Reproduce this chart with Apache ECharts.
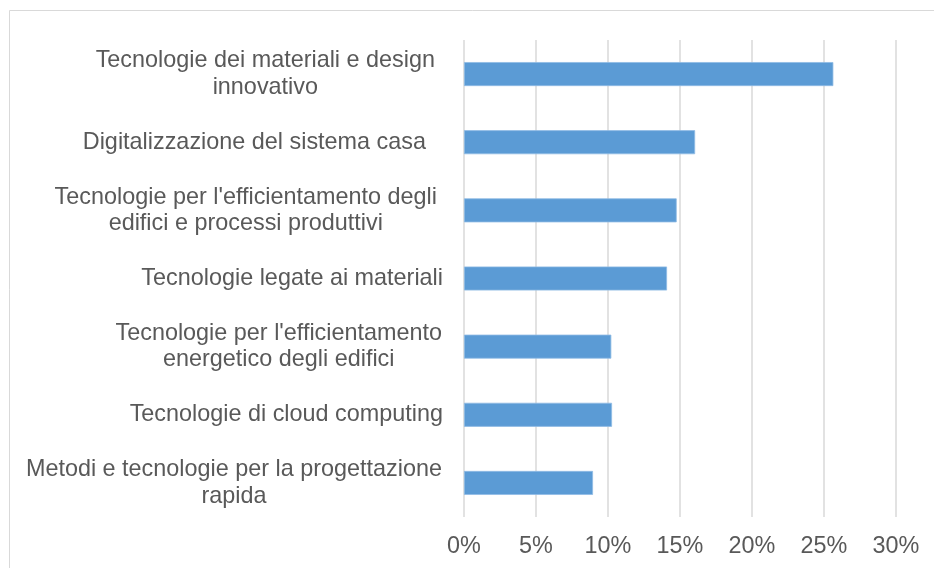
<!DOCTYPE html>
<html>
<head>
<meta charset="utf-8">
<script src="https://cdn.jsdelivr.net/npm/echarts@6/dist/echarts.min.js"></script>
<style>
html,body{margin:0;padding:0;background:#fff;}
#chart{width:934px;height:568px;}
</style>
</head>
<body>
<div id="chart"></div>
<script>
var categories = [
  "Tecnologie dei materiali e design\ninnovativo",
  "Digitalizzazione del sistema casa",
  "Tecnologie per l'efficientamento degli\nedifici e processi produttivi",
  "Tecnologie legate ai materiali",
  "Tecnologie per l'efficientamento\nenergetico degli edifici",
  "Tecnologie di cloud computing",
  "Metodi e tecnologie per la progettazione\nrapida"
];
var values = [25.65, 16.05, 14.77, 14.1, 10.23, 10.28, 8.96];
var tickMin = 0, tickMax = 30, tickStep = 5;

// layout: extra right gap for each category label (px)
var labelGaps = [8, 17, 6, 0, 1, 0, 1];

var chart = echarts.init(document.getElementById('chart'), null, {renderer: 'canvas'});
var textColor = '#595959';
var font = '"Liberation Sans", Arial, sans-serif';
var fs = 23.4;

chart.setOption({
  animation: false,
  backgroundColor: '#ffffff',
  graphic: [{
    type: 'rect',
    shape: {x: 9.5, y: 10.5, width: 940, height: 580},
    style: {fill: 'none', stroke: '#d9d9d9', lineWidth: 1},
    silent: true,
    z: -10
  }],
  grid: {left: 464, right: 38, top: 40, bottom: 51, containLabel: false},
  xAxis: {
    type: 'value',
    min: tickMin, max: tickMax, interval: tickStep,
    axisLine: {show: false},
    axisTick: {show: false},
    splitLine: {show: true, lineStyle: {color: '#d9d9d9', width: 1.5}},
    axisLabel: {
      formatter: '{value}%',
      color: textColor, fontSize: fs, fontFamily: font, margin: 18
    }
  },
  yAxis: {
    type: 'category',
    inverse: true,
    data: categories,
    axisLine: {show: false},
    axisTick: {show: false},
    splitLine: {show: false},
    axisLabel: {
      interval: 0,
      margin: 21,
      align: 'right',
      color: textColor, fontSize: fs, fontFamily: font,
      formatter: function (val, idx) {
        var lines = String(val).split('\n');
        var g = labelGaps[idx] || 0;
        return lines.map(function (l) {
          return '{t|' + l + '}' + (g > 0 ? '{g' + g + '|}' : '');
        }).join('\n');
      },
      rich: (function () {
        var r = {t: {align: 'center', color: textColor, fontSize: fs, fontFamily: font, lineHeight: 26.5}};
        labelGaps.forEach(function (g) {
          if (g > 0) r['g' + g] = {align: 'center', width: g, lineHeight: 26.5, fontSize: fs};
        });
        return r;
      })()
    }
  },
  series: [{
    type: 'bar',
    data: values,
    barWidth: 24,
    itemStyle: {color: '#5b9bd5', borderColor: '#8fbbe4', borderWidth: 0.8},
    silent: true
  }]
});
</script>
</body>
</html>
